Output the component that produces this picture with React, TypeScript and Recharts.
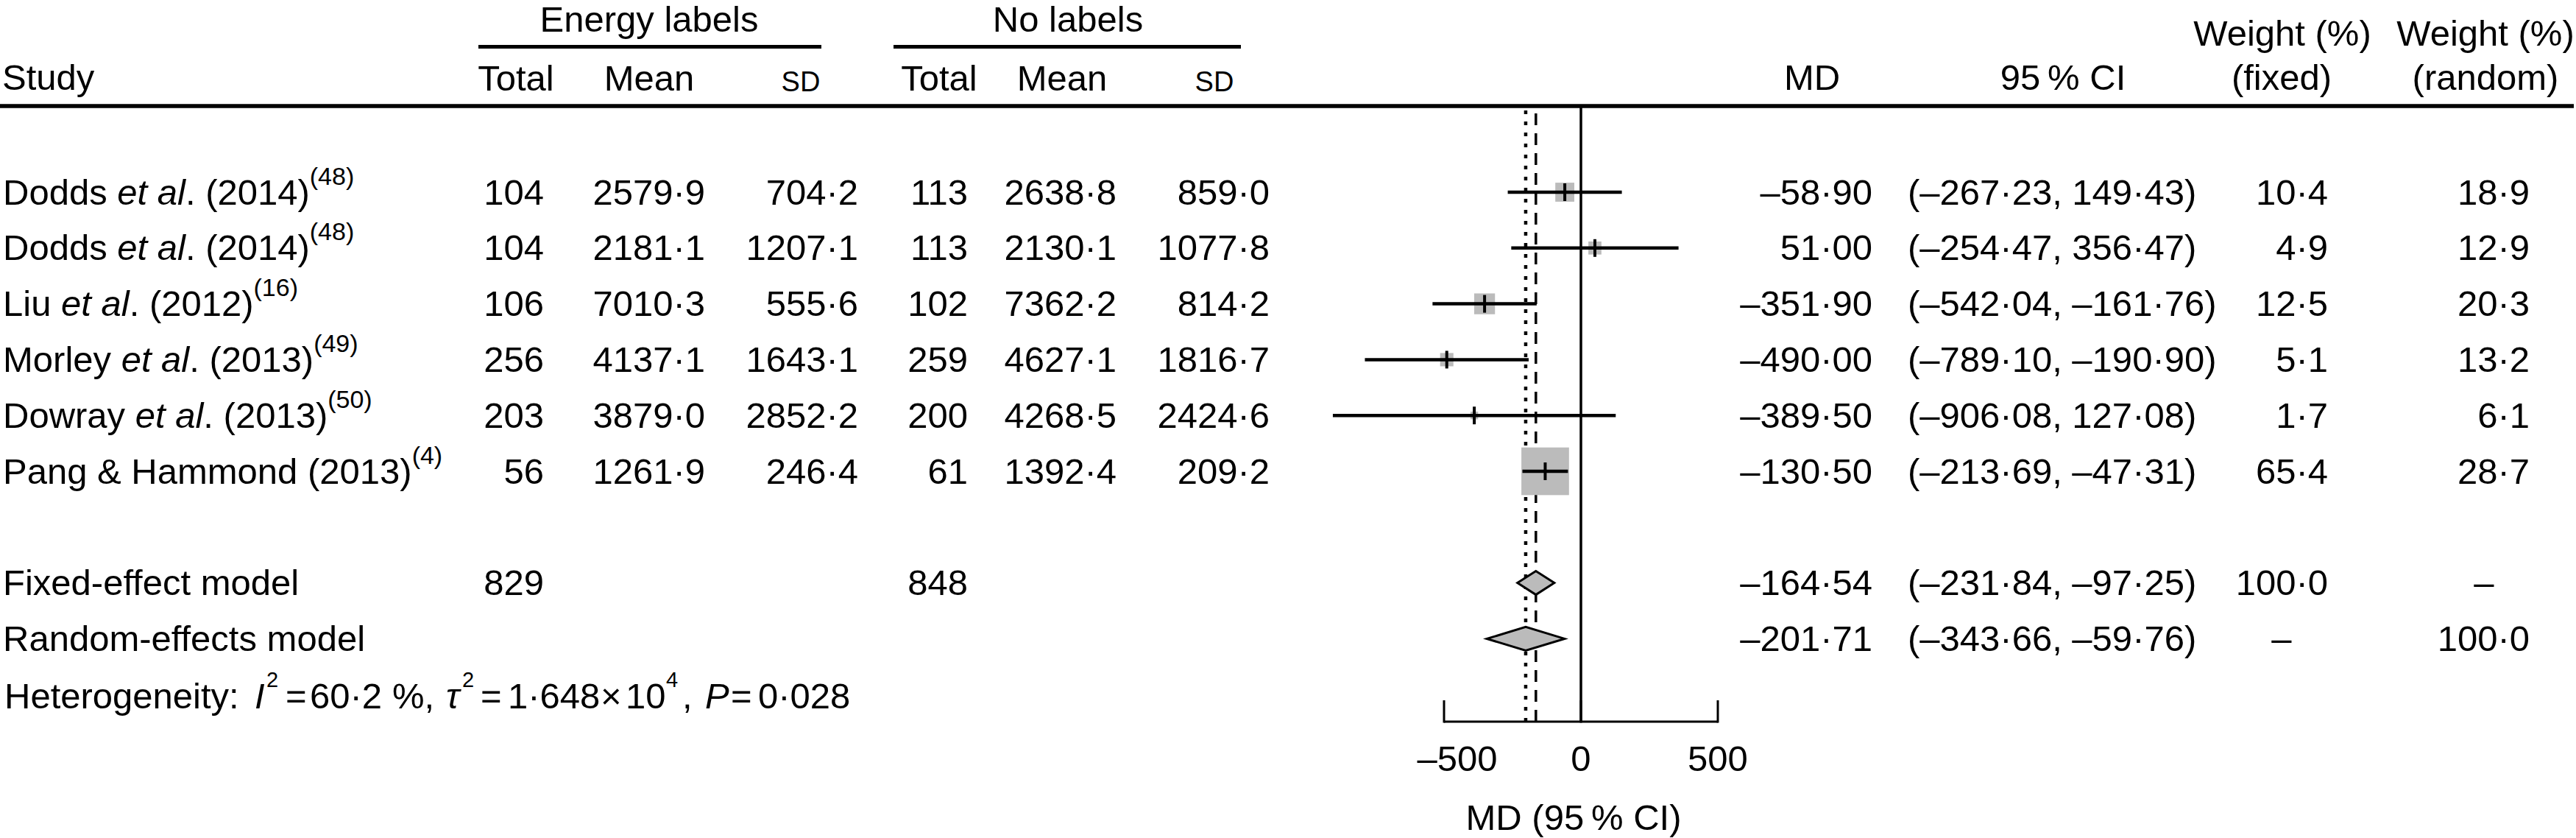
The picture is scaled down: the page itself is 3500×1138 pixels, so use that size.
import React from "react";
import { ComposedChart, Scatter, XAxis, YAxis, ReferenceLine, ReferenceArea } from "recharts";

// ---------- data ----------
const studyAuthors = ["Dodds", "Dodds", "Liu", "Morley", "Dowray", "Pang & Hammond"];
const studyEtAl = [true, true, true, true, true, false];
const studyYears = ["2014", "2014", "2012", "2013", "2013", "2013"];
const studyRefs = ["48", "48", "16", "49", "50", "4"];

const energyTotal = [104, 104, 106, 256, 203, 56];
const energyMean = [2579.9, 2181.1, 7010.3, 4137.1, 3879.0, 1261.9];
const energySD = [704.2, 1207.1, 555.6, 1643.1, 2852.2, 246.4];
const noTotal = [113, 113, 102, 259, 200, 61];
const noMean = [2638.8, 2130.1, 7362.2, 4627.1, 4268.5, 1392.4];
const noSD = [859.0, 1077.8, 814.2, 1816.7, 2424.6, 209.2];

const md = [-58.9, 51.0, -351.9, -490.0, -389.5, -130.5];
const ciLow = [-267.23, -254.47, -542.04, -789.1, -906.08, -213.69];
const ciHigh = [149.43, 356.47, -161.76, -190.9, 127.08, -47.31];
const weightFixed = [10.4, 4.9, 12.5, 5.1, 1.7, 65.4];
const weightRandom = [18.9, 12.9, 20.3, 13.2, 6.1, 28.7];

const pooledNames = ["Fixed-effect model", "Random-effects model"];
const pooledMD = [-164.54, -201.71];
const pooledLow = [-231.84, -343.66];
const pooledHigh = [-97.25, -59.76];
const pooledWeightFixed: (number | null)[] = [100.0, null];
const pooledWeightRandom: (number | null)[] = [null, 100.0];
const totalEnergy = 829;
const totalNo = 848;

const xTicks = [-500, 0, 500];
const xDomain = [-1000, 700];

// ---------- layout ----------
const W = 3500;
const H = 1138;
const FONT = "'Liberation Sans', Arial, Helvetica, sans-serif";
const FS = 49;
const ROW0 = 261;
const STEP = 75.8;
const rowY = (k: number) => ROW0 + STEP * (k - 1);
const base = (k: number) => rowY(k) + 16.5;
const PLOT_TOP = 144;
const PLOT_BOTTOM = 980;
const PLOT_LEFT = 1776;
const PX_PER_UNIT = 0.372;
const PLOT_W = (xDomain[1] - xDomain[0]) * PX_PER_UNIT;
const yTop = 1 + (PLOT_TOP - ROW0) / STEP;
const yBottom = 1 + (PLOT_BOTTOM - ROW0) / STEP;
const X_AXIS_H = 60;

const FIXED_ROW = 8;
const HET_ROW = 10;

const fmt = (v: number, d: number) => v.toFixed(d).replace("-", "\u2013").replace(".", "\u00B7");

const studyData = md.map((m, i) => ({ x: m, y: i + 1, w: weightFixed[i] }));

const SquareShape = (p: any) => {
  const s = 8 * Math.sqrt(p.payload.w);
  return <rect x={p.cx - s / 2} y={p.cy - s / 2} width={s} height={s} fill="#bbbbbb" />;
};

const TickShape = (p: any) => (
  <line x1={p.cx} x2={p.cx} y1={p.cy - 12} y2={p.cy + 12} stroke="#000" strokeWidth={4} />
);

const DiamondShape = (p: any) => {
  const { x, y, width, height } = p;
  const pts = `${x},${y + height / 2} ${x + width / 2},${y} ${x + width},${y + height / 2} ${x + width / 2},${y + height}`;
  return <polygon points={pts} fill="#bbbbbb" stroke="#000" strokeWidth={3} />;
};

const AxisTick = (p: any) => {
  const { x, y, payload } = p;
  const v = payload.value;
  return (
    <g>
      <line x1={x} x2={x} y1={y - 29} y2={y + 1.5} stroke="#000" strokeWidth={3} />
      <text x={x + (v < 0 ? 18 : 0)} y={y + 67} textAnchor="middle" fontFamily={FONT} fontSize={FS} fill="#000">
        {fmt(v, 0)}
      </text>
    </g>
  );
};

const T = (props: any) => <text fontFamily={FONT} fontSize={FS} fill="#000" {...props} />;

export default function App() {
  const numCols = [
    { vals: energyTotal, x: 739, d: 0 },
    { vals: energyMean, x: 958, d: 1 },
    { vals: energySD, x: 1166, d: 1 },
    { vals: noTotal, x: 1315, d: 0 },
    { vals: noMean, x: 1517, d: 1 },
    { vals: noSD, x: 1725, d: 1 },
  ];
  return (
    <div style={{ position: "absolute", left: 0, top: 0, width: W, height: H, background: "#fff" }}>
      <div style={{ position: "absolute", left: 0, top: 0 }}>
        <ComposedChart
          width={W}
          height={H}
          margin={{ top: PLOT_TOP, left: PLOT_LEFT, right: W - PLOT_LEFT - PLOT_W, bottom: H - PLOT_BOTTOM - X_AXIS_H }}
        >
          <XAxis
            type="number"
            dataKey="x"
            domain={xDomain}
            allowDataOverflow
            ticks={xTicks}
            interval={0}
            axisLine={false}
            tickLine={false}
            tickSize={0}
            tickMargin={0}
            height={X_AXIS_H}
            tick={<AxisTick />}
          />
          <YAxis type="number" dataKey="y" domain={[yTop, yBottom]} reversed allowDataOverflow hide />
          <ReferenceLine x={0} stroke="#000" strokeWidth={3.5} ifOverflow="visible" zIndex={50} />
          <ReferenceLine x={pooledMD[0]} stroke="#000" strokeWidth={3.5} strokeDasharray="16 11" zIndex={50} />
          <ReferenceLine x={pooledMD[1]} stroke="#000" strokeWidth={4.5} strokeDasharray="5 10" zIndex={50} />
          <ReferenceLine
            segment={[
              { x: xTicks[0], y: yBottom },
              { x: xTicks[xTicks.length - 1], y: yBottom },
            ]}
            stroke="#000"
            strokeWidth={3}
            ifOverflow="visible"
            zIndex={50}
          />
          <Scatter data={studyData} shape={SquareShape} isAnimationActive={false} zIndex={600} />
          {md.map((m, i) => (
            <ReferenceLine
              key={"ci" + i}
              segment={[
                { x: ciLow[i], y: i + 1 },
                { x: ciHigh[i], y: i + 1 },
              ]}
              stroke="#000"
              strokeWidth={4.5}
              ifOverflow="visible"
              zIndex={605}
            />
          ))}
          <Scatter data={studyData} shape={TickShape} isAnimationActive={false} zIndex={610} />
          {pooledMD.map((m, i) => (
            <ReferenceArea
              key={i}
              x1={pooledLow[i]}
              x2={pooledHigh[i]}
              y1={FIXED_ROW + i - 16 / STEP}
              y2={FIXED_ROW + i + 16 / STEP}
              shape={DiamondShape}
              ifOverflow="visible"
              zIndex={700}
            />
          ))}
        </ComposedChart>
      </div>
      <svg width={W} height={H} style={{ position: "absolute", left: 0, top: 0, pointerEvents: "none" }}>
        {/* header */}
        <T x={882} y={43} textAnchor="middle">Energy labels</T>
        <T x={1451} y={43} textAnchor="middle">No labels</T>
        <line x1={650} x2={1116} y1={63.5} y2={63.5} stroke="#000" strokeWidth={5} />
        <line x1={1214} x2={1686} y1={63.5} y2={63.5} stroke="#000" strokeWidth={5} />
        <T x={3} y={122}>Study</T>
        <T x={701} y={123} textAnchor="middle">Total</T>
        <T x={882} y={123} textAnchor="middle">Mean</T>
        <T x={1088} y={124} textAnchor="middle" fontSize={38}>SD</T>
        <T x={1276} y={123} textAnchor="middle">Total</T>
        <T x={1443} y={123} textAnchor="middle">Mean</T>
        <T x={1650} y={124} textAnchor="middle" fontSize={38}>SD</T>
        <T x={2462} y={122} textAnchor="middle">MD</T>
        <T x={2803} y={122} textAnchor="middle">95{"\u2009"}% CI</T>
        <T x={3101} y={62} textAnchor="middle">Weight (%)</T>
        <T x={3100} y={122} textAnchor="middle">(fixed)</T>
        <T x={3377} y={62} textAnchor="middle">Weight (%)</T>
        <T x={3377} y={122} textAnchor="middle">(random)</T>
        <line x1={0} x2={3497} y1={144} y2={144} stroke="#000" strokeWidth={5.5} />

        {/* study rows */}
        {studyAuthors.map((a, i) => {
          const b = base(i + 1);
          return (
            <g key={i}>
              <T x={4} y={b}>
                <tspan>{a + " "}</tspan>
                {studyEtAl[i] ? <tspan fontStyle="italic">et al</tspan> : null}
                {studyEtAl[i] ? <tspan>{". "}</tspan> : null}
                <tspan>{"(" + studyYears[i] + ")"}</tspan>
                <tspan fontSize={34} dy={-27}>{"(" + studyRefs[i] + ")"}</tspan>
              </T>
              {numCols.map((c, j) => (
                <T key={j} x={c.x} y={b} textAnchor="end">{fmt(c.vals[i], c.d)}</T>
              ))}
              <T x={2544} y={b} textAnchor="end">{fmt(md[i], 2)}</T>
              <T x={2592} y={b}>{"(" + fmt(ciLow[i], 2) + ", " + fmt(ciHigh[i], 2) + ")"}</T>
              <T x={3163} y={b} textAnchor="end">{fmt(weightFixed[i], 1)}</T>
              <T x={3437} y={b} textAnchor="end">{fmt(weightRandom[i], 1)}</T>
            </g>
          );
        })}

        {/* pooled rows */}
        {pooledNames.map((n, i) => {
          const b = base(FIXED_ROW + i);
          const wf = pooledWeightFixed[i];
          const wr = pooledWeightRandom[i];
          return (
            <g key={n}>
              <T x={4} y={b}>{n}</T>
              {i === 0 ? <T x={739} y={b} textAnchor="end">{String(totalEnergy)}</T> : null}
              {i === 0 ? <T x={1315} y={b} textAnchor="end">{String(totalNo)}</T> : null}
              <T x={2544} y={b} textAnchor="end">{fmt(pooledMD[i], 2)}</T>
              <T x={2592} y={b}>{"(" + fmt(pooledLow[i], 2) + ", " + fmt(pooledHigh[i], 2) + ")"}</T>
              {wf !== null ? (
                <T x={3163} y={b} textAnchor="end">{fmt(wf, 1)}</T>
              ) : (
                <T x={3100} y={b} textAnchor="middle">{"\u2013"}</T>
              )}
              {wr !== null ? (
                <T x={3437} y={b} textAnchor="end">{fmt(wr, 1)}</T>
              ) : (
                <T x={3375} y={b} textAnchor="middle">{"\u2013"}</T>
              )}
            </g>
          );
        })}

        {/* heterogeneity */}
        {(() => {
          const b = base(HET_ROW) + 2;
          const sb = b - 29;
          return (
            <T y={b}>
              <tspan x={6} y={b}>Heterogeneity:</tspan>
              <tspan x={346} y={b} fontStyle="italic">I</tspan>
              <tspan x={362} y={sb} fontSize={29}>2</tspan>
              <tspan x={388} y={b}>=</tspan>
              <tspan x={421} y={b}>60{"\u00B7"}2</tspan>
              <tspan x={533} y={b}>%,</tspan>
              <tspan x={606} y={b} fontStyle="italic">{"\u03C4"}</tspan>
              <tspan x={628} y={sb} fontSize={29}>2</tspan>
              <tspan x={653} y={b}>=</tspan>
              <tspan x={690} y={b}>1{"\u00B7"}648</tspan>
              <tspan x={816} y={b}>{"\u00D7"}</tspan>
              <tspan x={850} y={b}>10</tspan>
              <tspan x={905} y={sb} fontSize={29}>4</tspan>
              <tspan x={927} y={b}>,</tspan>
              <tspan x={958} y={b} fontStyle="italic">P</tspan>
              <tspan x={993} y={b}>=</tspan>
              <tspan x={1030} y={b}>0{"\u00B7"}028</tspan>
            </T>
          );
        })()}

        {/* x-axis title */}
        <T x={2138} y={1127} textAnchor="middle">MD (95{"\u2009"}% CI)</T>
      </svg>
    </div>
  );
}
